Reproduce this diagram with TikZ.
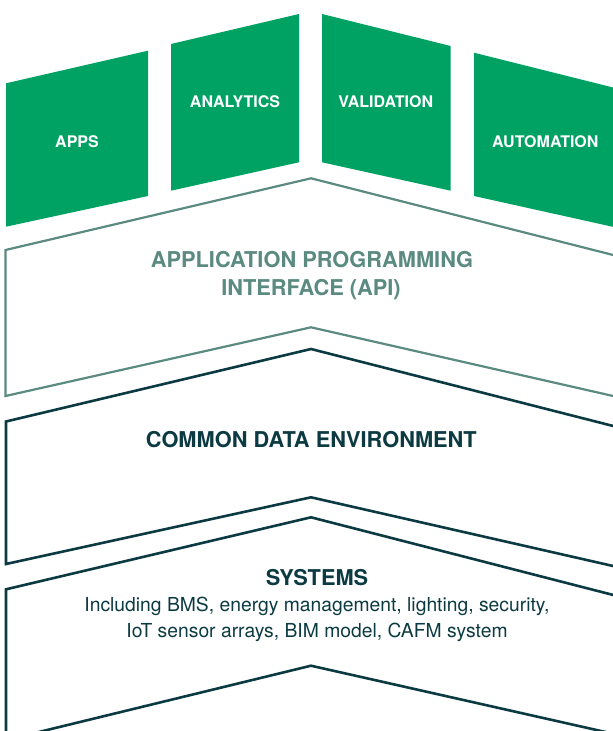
\documentclass[tikz,border=0pt]{standalone}
\usepackage{fontspec}
\setmainfont{TeX Gyre Heros}
\usepackage{xcolor}
\usepackage{tikz}

\definecolor{blockgreen}{RGB}{0,162,100}
\definecolor{apiteal}{RGB}{90,138,128}
\definecolor{deepteal}{RGB}{12,58,66}

\tikzset{
	block/.style={fill=blockgreen},
	blocklabel/.style={text=white,anchor=base,inner sep=0pt,font=\fontsize{16}{18}\selectfont\bfseries},
	apiline/.style={draw=apiteal,line width=2.2pt},
	layerline/.style={draw=deepteal,line width=2.6pt},
	heading/.style={anchor=base,inner sep=0pt,font=\fontsize{21.8}{26}\selectfont\bfseries},
	bodytext/.style={anchor=base,inner sep=0pt,text=deepteal,font=\fontsize{19.3}{24}\selectfont}
}

\begin{document}
\begin{tikzpicture}[x=1pt,y=-1pt]
	\useasboundingbox (0,0) rectangle (613,731);
	\clip (0,0) rectangle (613,731);
	
	\fill[block] (6,83.3) -- (148,50.7) -- (148,196) -- (6,226.7) -- cycle;
	\fill[block] (171,44) -- (299,14) -- (299,162.3) -- (171,190.7) -- cycle;
	\fill[block] (322,14) -- (450.7,46) -- (450.7,190.7) -- (322,162.3) -- cycle;
	\fill[block] (474,52.7) -- (625,90.5) -- (625,229.5) -- (474,196) -- cycle;
	\node[blocklabel] (apps) at (77,147.3) {APPS};
	\node[blocklabel] (analytics) at (235,107.3) {ANALYTICS};
	\node[blocklabel] (validation) at (385.7,107.3) {VALIDATION};
	\node[blocklabel] (automation) at (545.3,147.3) {AUTOMATION};
	
	\draw[apiline] (625,258) -- (311,178.3) -- (5.5,250) -- (5.5,396) -- (311,327.3) -- (625,398.7);
	\node[heading,text=apiteal] (api1) at (312,267.7) {APPLICATION PROGRAMMING};
	\node[heading,text=apiteal] (api2) at (311,295) {INTERFACE (API)};
	
	\draw[layerline] (625,429) -- (311,349) -- (6,421.5) -- (6,564) -- (311,497.3) -- (625,568.7);
	\node[heading,text=deepteal] (cde) at (311.3,447.7) {COMMON DATA ENVIRONMENT};
	
	\draw[layerline] (625,598) -- (311,517.3) -- (6,589.3) -- (6,740) -- (311,665.7) -- (625,736.4);
	\node[heading,text=deepteal] (systems) at (317,585) {SYSTEMS};
	\node[bodytext] (sys1) at (317,611) {Including BMS, energy management, lighting, security,};
	\node[bodytext] (sys2) at (317,637) {IoT sensor arrays, BIM model, CAFM system};
\end{tikzpicture}
\end{document}
